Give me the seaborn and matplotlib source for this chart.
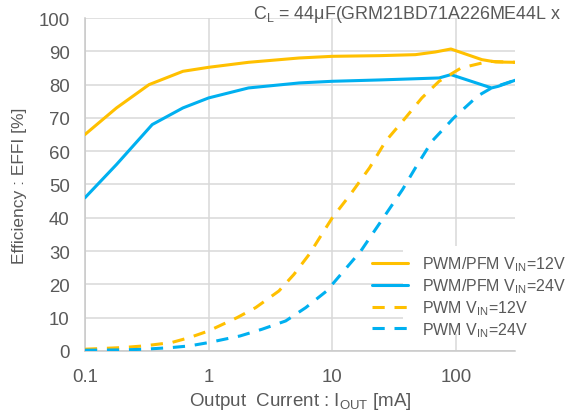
import matplotlib
matplotlib.use("Agg")
import pandas as pd
import matplotlib.pyplot as plt
import seaborn as sns
from matplotlib.patches import Rectangle
from matplotlib.ticker import LogLocator, NullFormatter

# Values (x = I_OUT in mA, y = efficiency in %)
pfm12_x = [0.1, 0.18, 0.33, 0.62, 1, 2.1, 5.4, 10, 24, 47, 68, 91, 162, 210, 300]
pfm12_y = [65, 73, 80, 84, 85.2, 86.7, 88, 88.5, 88.7, 89, 89.8, 90.7, 87.5, 86.8, 86.7]

pfm24_x = [0.1, 0.18, 0.35, 0.62, 1, 2.1, 5.4, 10, 24, 73, 91, 194, 220, 300]
pfm24_y = [46, 56, 68, 73, 76, 79, 80.5, 81, 81.4, 82, 83, 79, 79.5, 81.3]

pwm12_x = [0.1, 0.2, 0.3, 0.5, 0.7, 1, 1.7, 2.4, 3.7, 4.9, 6.5, 10, 14, 20, 27, 39, 53, 73, 110, 185, 300]
pwm12_y = [0.5, 1, 1.5, 2.5, 4, 6, 10, 13, 18, 23, 29, 40, 47, 55, 63, 70, 76, 81, 85, 87, 86.7]

pwm24_x = [0.1, 0.2, 0.3, 0.5, 0.7, 1, 1.8, 2.7, 4.2, 6.1, 9, 17, 27, 37, 47, 64, 96, 150, 194, 300]
pwm24_y = [0.2, 0.3, 0.5, 1, 1.5, 2.5, 4.5, 6.5, 9, 13, 18, 30, 41, 48.5, 55, 63, 70, 76.6, 79, 81.3]

labels = [
    "PWM/PFM V$_{IN}$=12V",
    "PWM/PFM V$_{IN}$=24V",
    "PWM V$_{IN}$=12V",
    "PWM V$_{IN}$=24V",
]
xticks = [0.1, 1, 10, 100]
xtick_labels = ["0.1", "1", "10", "100"]
yticks = list(range(0, 101, 10))

yellow = "#FFC000"
blue = "#00B0F0"
text_color = "#595959"
grid_color = "#d9d9d9"

sns.set_style("white")
plt.rcParams["font.family"] = ["Liberation Sans", "DejaVu Sans"]
plt.rcParams["mathtext.default"] = "regular"

fig = plt.figure(figsize=(5.7, 4.14), dpi=100)
ax = fig.add_axes([0.149, 0.150, 0.7545, 0.804])

series = [
    (pfm12_x, pfm12_y, yellow, "-"),
    (pfm24_x, pfm24_y, blue, "-"),
    (pwm12_x, pwm12_y, yellow, (0, (4, 3.2))),
    (pwm24_x, pwm24_y, blue, (0, (4, 3.2))),
]
for (xs, ys, color, ls), label in zip(series, labels):
    df = pd.DataFrame({"I": xs, "E": ys})
    sns.lineplot(data=df, x="I", y="E", ax=ax, color=color, linestyle=ls,
                 linewidth=2.2, label=label, zorder=3)

ax.set_xscale("log")
ax.set_xlim(0.1, 300)
ax.set_ylim(0, 100)
ax.set_xticks(xticks, xtick_labels)
ax.set_yticks(yticks)
ax.xaxis.set_minor_locator(LogLocator(base=10, subs=range(2, 10), numticks=20))
ax.xaxis.set_minor_formatter(NullFormatter())

ax.grid(True, which="major", color=grid_color, linewidth=1.1)
ax.set_axisbelow(True)
for side in ["top", "right"]:
    ax.spines[side].set_visible(False)
for side in ["left", "bottom"]:
    ax.spines[side].set_color("#c8c8c8")
    ax.spines[side].set_linewidth(1.1)

ax.tick_params(axis="both", which="major", length=0, labelsize=13.4, labelcolor=text_color)
ax.tick_params(axis="y", pad=11)
ax.tick_params(axis="x", pad=12)
ax.tick_params(axis="x", which="minor", direction="in", length=3, width=0.8, color="#bfbfbf")

ax.set_xlabel("Output  Current : I$_{OUT}$ [mA]", fontsize=13.5, color=text_color, labelpad=4)
ax.set_ylabel("Efficiency : EFFI [%]", fontsize=12.5, color=text_color, labelpad=8)

# white patch behind the legend, hiding the grid there
ax.add_patch(Rectangle((0.74, 0.05), 0.26, 0.265, transform=ax.transAxes,
                       facecolor="white", edgecolor="none", zorder=1))

leg = ax.legend(loc="upper left", bbox_to_anchor=(0.667, 0.29), frameon=False,
                fontsize=11.5, handlelength=2.25, handletextpad=0.9,
                labelspacing=0.2, borderpad=0, borderaxespad=0)
for t in leg.get_texts():
    t.set_color(text_color)
for h in leg.get_lines():
    h.set_linewidth(2.2)

fig.text(0.443, 0.99, "C$_L$ = 44μF(GRM21BD71A226ME44L x", fontsize=12.9,
         color=text_color, ha="left", va="top")

fig.savefig("out.png", dpi=100)
